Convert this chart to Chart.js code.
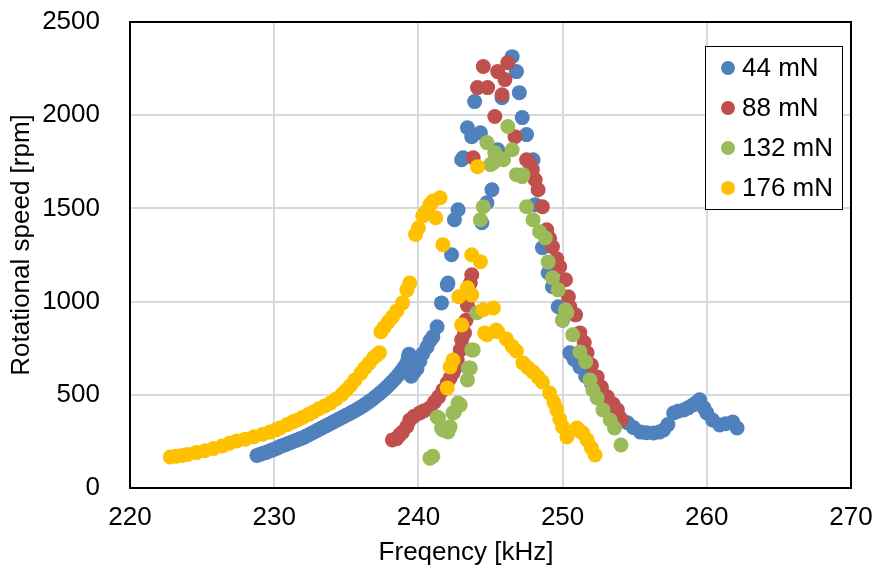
<!DOCTYPE html>
<html>
<head>
<meta charset="utf-8">
<script src="https://cdn.jsdelivr.net/npm/chart.js@4.4.1/dist/chart.umd.min.js"></script>
<style>
  body { margin: 0; background: #fff; }
  #wrap { width: 872px; height: 571px; }
</style>
</head>
<body>
<div id="wrap"><canvas id="myChart"></canvas></div>
<script>
// series names (legend)
const seriesNames = ['44 mN', '88 mN', '132 mN', '176 mN'];
const seriesColors = ['#4F81BD', '#C0504D', '#9BBB59', '#FFC000'];

// axis titles and tick labels
const xTitle = 'Freqency [kHz]';
const yTitle = 'Rotational speed [rpm]';
const xTicks = [220, 230, 240, 250, 260, 270];
const yTicks = [0, 500, 1000, 1500, 2000, 2500];

// 44 mN : frequency [kHz] and speed [rpm]
const freq44 = [228.8, 229.0, 229.2, 229.4, 229.6, 229.8, 230.0, 230.2, 230.4, 230.6, 230.8, 231.0, 231.2, 231.4, 231.6, 231.8,
  232.0, 232.2, 232.4, 232.6, 232.8, 233.0, 233.2, 233.4, 233.6, 233.8, 234.0, 234.2, 234.4, 234.6, 234.8, 235.0,
  235.2, 235.4, 235.6, 235.8, 236.0, 236.2, 236.4, 236.6, 236.8, 237.0, 237.2, 237.4, 237.6, 237.8, 238.0, 238.2,
  238.4, 238.6, 238.8, 239.0, 239.2, 239.3, 239.35,
  239.5, 239.7, 239.9, 240.1, 240.3, 240.6, 240.8, 241.0, 241.3, 241.6, 242.0, 242.05, 242.3, 242.5, 242.75,
  243.0, 243.1, 243.4, 243.7, 243.9, 244.3, 244.4, 244.75, 245.1, 245.5, 245.8, 246.5, 246.8, 247.0, 247.2,
  247.5, 247.95, 248.1, 248.6, 249.0, 249.3, 249.7, 250.0, 250.5, 250.8, 251.2, 251.6, 252.0, 252.4, 252.8,
  253.2, 253.6, 254.0, 254.5, 254.9, 255.4, 255.8, 256.3, 256.7, 257.0, 257.3, 257.7, 258.0, 258.4, 258.7,
  259.05, 259.3, 259.5, 259.8, 260.0, 260.4, 260.9, 261.3, 261.8, 262.1];
const rpm44 = [175, 180, 185, 190, 196, 202, 208, 214, 222, 228, 234, 240, 246, 252, 258, 264,
  270, 278, 286, 294, 302, 310, 318, 326, 334, 342, 350, 358, 366, 374, 382, 390,
  398, 406, 415, 424, 433, 443, 453, 464, 475, 488, 500, 513, 527, 541, 556, 572,
  588, 606, 626, 648, 672, 700, 718,
  600, 620, 640, 680, 720, 757, 790, 811, 865, 993, 1090, 1100, 1251, 1439, 1493,
  1761, 1772, 1933, 1885, 2073, 1906, 1423, 1530, 1600, 1815, 2094, 2314, 2234, 2121, 1987,
  1896, 1761, 1520, 1289, 1155, 1080, 972, 900, 725, 690, 650, 600, 560, 510, 470,
  430, 400, 375, 350, 325, 300, 297, 295, 300, 311, 340, 402, 412, 419, 430,
  446, 460, 473, 430, 403, 365, 338, 345, 354, 322];

// 88 mN
const freq88 = [238.2, 238.5, 238.7, 238.9, 239.2, 239.4, 239.7, 240.1, 240.4, 240.8, 241.1, 241.4, 241.7, 242.0, 242.2,
  242.4, 242.6, 242.7, 242.9, 243.0, 243.2, 243.3, 243.4, 243.5, 243.6, 243.7,
  243.8, 244.1, 244.5, 244.8, 245.3, 245.5, 245.8, 246.0, 246.2, 246.7, 247.5, 247.7, 247.9, 248.1, 248.3,
  248.6, 248.9, 249.1, 249.3, 249.6, 249.8, 250.2, 250.4, 250.5, 250.9, 251.2, 251.5, 251.7, 252.0, 252.4,
  252.7, 253.1, 253.5, 253.8, 254.1];
const rpm88 = [258, 265, 285, 300, 330, 365, 385, 403, 415, 430, 460, 489, 525, 564, 590,
  617, 650, 687, 741, 795, 832, 900, 980, 1050, 1100, 1144,
  1772, 2148, 2261, 2148, 1993, 2234, 2110, 2191, 2282, 1885, 1761, 1745, 1708, 1654, 1600,
  1509, 1385, 1340, 1294, 1230, 1187, 1117, 1026, 972, 929, 832, 780, 725, 660, 596,
  540, 489, 450, 419, 365];

// 132 mN
const freq132 = [240.8, 241.0, 241.3, 241.4, 241.6, 241.7, 242.05, 242.2, 242.4, 242.5, 242.75, 242.9, 243.4, 243.45,
  243.6, 243.7, 243.8, 244.06, 244.3, 244.5, 244.75, 245.0, 245.2, 245.3, 245.9, 246.2, 246.5, 246.8, 247.2,
  247.25, 247.5, 247.95, 248.4, 248.8, 249.0, 249.3, 249.7, 250.0, 250.2, 250.3, 250.7, 251.2, 251.6, 251.9,
  252.1, 252.4, 252.8, 253.3, 253.6, 254.05];
const rpm132 = [160, 170, 381, 376, 322, 311, 301, 328, 403, 408, 456, 446, 580, 644,
  644, 741, 741, 940, 1439, 1509, 1853, 1735, 1745, 1799, 1761, 1939, 1815, 1681, 1670,
  1681, 1509, 1439, 1375, 1342, 1213, 1128, 1063, 902, 956, 940, 822, 730, 677, 580,
  526, 483, 419, 365, 322, 231];

// 176 mN
const freq176 = [222.8, 223.2, 223.6, 224.0, 224.6, 225.2, 225.8, 226.4, 226.9, 227.4, 228.0, 228.6, 229.2, 229.7,
  230.1, 230.4, 230.9, 231.3, 231.6, 232.0, 232.4, 232.7, 233.1, 233.5, 233.9, 234.3, 234.7, 235.0, 235.3,
  235.6, 236.0, 236.3, 236.6, 236.9, 237.1, 237.3, 237.4, 237.6, 237.9, 238.2, 238.5, 238.9, 239.2, 239.4,
  239.8, 240.0, 240.3, 240.5, 240.8, 241.0, 241.2, 241.5, 241.7,
  242.0, 242.2, 242.4, 242.8, 243.0, 243.4, 243.7, 243.7, 244.1, 244.3, 244.5, 244.6, 244.75, 245.2, 245.4,
  245.5, 246.1, 246.5, 246.8, 247.25, 247.6, 247.95, 248.3, 248.6, 249.1, 249.4, 249.6, 249.8, 250.0, 250.3,
  251.0, 251.2, 251.4, 251.7, 252.0, 252.25];
const rpm176 = [166, 170, 175, 180, 190, 200, 212, 225, 240, 252, 262, 275, 288, 300,
  312, 322, 340, 355, 365, 380, 395, 408, 425, 440, 456, 478, 502, 526, 550,
  580, 615, 645, 671, 700, 712, 725, 838, 860, 890, 918, 950, 993, 1063, 1100,
  1360, 1395, 1460, 1480, 1520, 1540, 1450, 1557, 1305,
  537, 650, 687, 1026, 875, 1074, 1036, 1251, 1724, 1214, 956, 832, 822, 966, 848,
  838, 800, 760, 735, 671, 645, 623, 595, 569, 510, 460, 419, 370, 328, 274,
  322, 305, 295, 258, 215, 177];

const FONT = "'Liberation Sans', Arial, sans-serif";

function toPoints(xs, ys) {
  return xs.map((x, i) => ({ x: x, y: ys[i] }));
}

// legend box drawn inside the plot area, top right
const boxLegend = {
  id: 'boxLegend',
  afterDraw(chart) {
    const ctx = chart.ctx;
    const area = chart.chartArea;
    const left = area.right - 146, top = area.top + 24;
    ctx.save();
    ctx.fillStyle = '#fff';
    ctx.fillRect(left, top, 137, 163);
    ctx.strokeStyle = '#000';
    ctx.lineWidth = 1;
    ctx.strokeRect(left + 0.5, top + 0.5, 137, 163);
    ctx.font = '26px ' + FONT;
    ctx.textBaseline = 'middle';
    chart.data.datasets.forEach((ds, i) => {
      const cy = top + 22 + i * 40;
      ctx.fillStyle = ds.backgroundColor;
      ctx.beginPath();
      ctx.arc(left + 23, cy, 7, 0, Math.PI * 2);
      ctx.fill();
      ctx.fillStyle = '#000';
      ctx.fillText(ds.label, left + 37, cy + 1);
    });
    ctx.restore();
  }
};

// axis titles (placed like the original, x title a bit left of centre)
const axisTitles = {
  id: 'axisTitles',
  afterDraw(chart) {
    const ctx = chart.ctx;
    ctx.save();
    ctx.fillStyle = '#000';
    ctx.font = '26px ' + FONT;
    ctx.textAlign = 'center';
    ctx.textBaseline = 'middle';
    ctx.fillText(xTitle, 466, 553);
    ctx.translate(22, 245);
    ctx.rotate(-Math.PI / 2);
    ctx.fillText(yTitle, 0, 0);
    ctx.restore();
  }
};

// black frame round the plot area
const plotFrame = {
  id: 'plotFrame',
  afterDatasetsDraw(chart) {
    const a = chart.chartArea;
    const ctx = chart.ctx;
    ctx.save();
    ctx.strokeStyle = '#000';
    ctx.lineWidth = 2;
    ctx.strokeRect(a.left, a.top, a.right - a.left, a.bottom - a.top);
    ctx.restore();
  }
};

const ctx = document.getElementById('myChart').getContext('2d');
const myChart = new Chart(ctx, {
  type: 'scatter',
  data: {
    datasets: [
      { label: seriesNames[0], data: toPoints(freq44, rpm44), backgroundColor: seriesColors[0], order: 4 },
      { label: seriesNames[1], data: toPoints(freq88, rpm88), backgroundColor: seriesColors[1], order: 3 },
      { label: seriesNames[2], data: toPoints(freq132, rpm132), backgroundColor: seriesColors[2], order: 2 },
      { label: seriesNames[3], data: toPoints(freq176, rpm176), backgroundColor: seriesColors[3], order: 1 }
    ]
  },
  options: {
    responsive: true,
    maintainAspectRatio: false,
    animation: false,
    layout: { padding: { top: 22, right: 21, left: 0, bottom: 0 } },
    elements: { point: { radius: 7.5, borderWidth: 0, hoverRadius: 7.5 } },
    plugins: {
      legend: { display: false },
      tooltip: { enabled: false }
    },
    scales: {
      x: {
        type: 'linear',
        min: xTicks[0],
        max: xTicks[xTicks.length - 1],
        afterFit: s => { s.height = 83; s.paddingLeft = 0; s.paddingRight = 0; },
        afterBuildTicks: s => { s.ticks = xTicks.map(v => ({ value: v })); },
        ticks: { color: '#000', font: { size: 26, family: FONT }, padding: 14, maxRotation: 0,
                 callback: v => String(v) },
        grid: { color: '#d9d9d9', lineWidth: 2, drawTicks: false },
        border: { display: false },
        title: { display: false }
      },
      y: {
        min: yTicks[0],
        max: yTicks[yTicks.length - 1],
        afterFit: s => { s.width = 130; s.paddingTop = 0; s.paddingBottom = 0; },
        afterBuildTicks: s => { s.ticks = yTicks.map(v => ({ value: v })); },
        ticks: { color: '#000', font: { size: 26, family: FONT }, padding: 30,
                 callback: v => String(v) },
        grid: { color: '#d9d9d9', lineWidth: 2, drawTicks: false },
        border: { display: false },
        title: { display: false }
      }
    }
  },
  plugins: [plotFrame, axisTitles, boxLegend]
});
</script>
</body>
</html>
